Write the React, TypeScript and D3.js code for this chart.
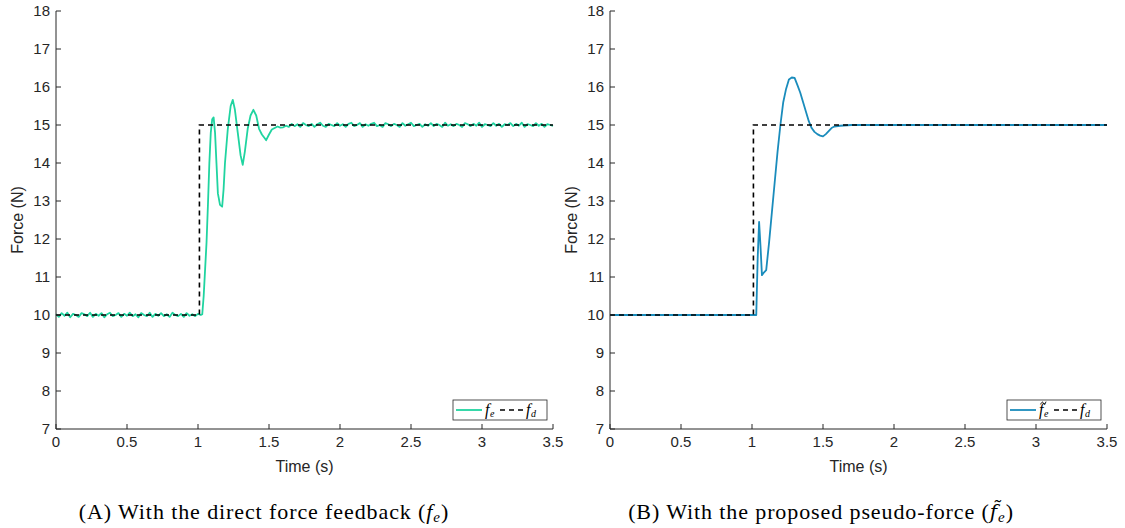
import React from "react";
import * as d3 from "d3";

const yTicks = [7, 8, 9, 10, 11, 12, 13, 14, 15, 16, 17, 18];
const xTicks = [0, 0.5, 1, 1.5, 2, 2.5, 3, 3.5];

// reference step (f_d)
const refTime = [0, 1.01, 1.01, 3.5];
const refForce = [10, 10, 15, 15];

// direct force feedback: noisy pre-step samples (dt = 0.02 from t = 0)
const fePre = [
  10.02, 9.95, 10.05, 9.98, 10.06, 9.94, 10.03, 10.0, 9.95, 10.05, 10.02, 9.97, 10.06, 9.95, 10.03, 9.98, 10.05,
  9.94, 10.02, 10.06, 9.97, 10.0, 10.05, 9.95, 10.03, 9.98, 10.06, 9.97, 10.02, 9.94, 10.05, 10.0, 9.97, 10.06,
  9.95, 10.03, 9.98, 10.05, 9.97, 10.02, 9.95, 10.06, 10.0, 9.97, 10.03, 9.95, 10.05, 9.98, 10.02, 9.97, 10.03,
];
// transient
const feTransTime = [
  1.02, 1.03, 1.04, 1.05, 1.06, 1.07, 1.08, 1.09, 1.1, 1.11, 1.12, 1.13, 1.14, 1.155, 1.17, 1.18, 1.19, 1.21, 1.23,
  1.245, 1.26, 1.28, 1.3, 1.315, 1.33, 1.35, 1.37, 1.39, 1.41, 1.43, 1.45, 1.47, 1.48, 1.5, 1.52, 1.54, 1.56, 1.58,
];
const feTransForce = [
  10.0, 10.02, 10.5, 11.2, 11.9, 12.9, 14.0, 14.8, 15.15, 15.2, 14.8, 14.0, 13.2, 12.9, 12.85, 13.3, 14.0, 14.9,
  15.5, 15.66, 15.4, 14.8, 14.2, 13.95, 14.3, 14.9, 15.25, 15.4, 15.25, 14.9, 14.75, 14.65, 14.6, 14.75, 14.88,
  14.92, 14.96, 14.93,
];
// noisy post-step samples (dt = 0.02 from t = 1.6)
const fePost = [
  14.94, 14.98, 14.95, 15.03, 14.97, 15.02, 14.95, 15.05, 15.0, 14.97, 15.03, 14.95, 15.02, 15.06, 14.98, 14.95,
  15.03, 15.0, 14.97, 15.05, 14.98, 15.02, 14.95, 15.03, 15.06, 14.97, 15.0, 15.05, 14.95, 15.02, 14.98, 15.03,
  15.06, 14.97, 15.0, 14.95, 15.05, 15.02, 14.97, 15.03, 15.0, 14.95, 15.05, 14.98, 15.02, 15.06, 14.97, 15.0,
  15.03, 14.95, 15.02, 14.98, 15.05, 14.97, 15.03, 15.0, 14.95, 15.06, 14.98, 15.02, 14.97, 15.03, 15.0, 14.95,
  15.05, 15.02, 14.97, 15.03, 14.98, 15.06, 14.95, 15.02, 15.0, 14.97, 15.05, 14.98, 15.03, 14.95, 15.02, 15.0,
  15.05, 14.97, 15.03, 14.98, 15.06, 14.95, 15.02, 15.0, 14.97, 15.05, 14.98, 15.03, 14.95, 15.02, 15.0, 14.98,
];

// proposed pseudo-force
const pfTime = [
  0, 1.01, 1.03, 1.04, 1.05, 1.06, 1.07, 1.08, 1.1, 1.12, 1.14, 1.16, 1.18, 1.2, 1.22, 1.24, 1.26, 1.28, 1.3, 1.32,
  1.34, 1.36, 1.38, 1.4, 1.42, 1.44, 1.46, 1.48, 1.5, 1.52, 1.54, 1.56, 1.58, 1.62, 1.7, 1.8, 3.5,
];
const pfForce = [
  10, 10, 10, 11.5, 12.45, 11.8, 11.05, 11.1, 11.18, 11.9, 12.7, 13.5, 14.3, 15.0, 15.6, 15.95, 16.2, 16.25,
  16.24, 16.05, 15.85, 15.6, 15.35, 15.1, 14.92, 14.82, 14.76, 14.72, 14.7, 14.76, 14.84, 14.92, 14.96, 14.98,
  15.0, 15.0, 15.0,
];

const W = 1125;
const H = 528;
const axisColor = "#262626";
const sans = "'Liberation Sans', Arial, sans-serif";
const serif = "'Liberation Serif', 'DejaVu Serif', serif";

type Pt = [number, number];

function buildFe(): Pt[] {
  const pts: Pt[] = [];
  fePre.forEach((v, i) => pts.push([i * 0.02, v]));
  feTransTime.forEach((t, i) => pts.push([t, feTransForce[i]]));
  fePost.forEach((v, i) => pts.push([1.6 + i * 0.02, v]));
  return pts;
}

function Tilde({ x, y, w }: { x: number; y: number; w: number }) {
  const h = w * 0.25;
  return (
    <path
      d={`M${x},${y + h} C${x + w * 0.25},${y - h} ${x + w * 0.45},${y - h} ${x + w * 0.5},${y} S${x + w * 0.75},${y + h * 2} ${x + w},${y - h}`}
      fill="none"
      stroke="#000"
      strokeWidth={0.9}
    />
  );
}

function Panel({
  x0,
  data,
  color,
  tilde,
}: {
  x0: number;
  data: Pt[];
  color: string;
  tilde: boolean;
}) {
  const x = d3.scaleLinear().domain([0, 3.5]).range([x0, x0 + 497]);
  const y = d3.scaleLinear().domain([7, 18]).range([429, 11]);
  const line = d3
    .line<Pt>()
    .x((d) => x(d[0]))
    .y((d) => y(d[1]));
  const refPts: Pt[] = refTime.map((t, i) => [t, refForce[i]]);
  const lx = x0 + 397;
  const ly = 400;
  return (
    <g>
      <path d={line(data) ?? ""} fill="none" stroke={color} strokeWidth={1.8} strokeLinejoin="round" />
      <path d={line(refPts) ?? ""} fill="none" stroke="#000" strokeWidth={1.6} strokeDasharray="5,4" />
      {/* axes */}
      <line x1={x(0)} x2={x(3.5)} y1={y(7)} y2={y(7)} stroke={axisColor} strokeWidth={1} />
      <line x1={x(0)} x2={x(0)} y1={y(7)} y2={y(18)} stroke={axisColor} strokeWidth={1} />
      {yTicks.map((t) => (
        <g key={"y" + t}>
          <line x1={x(0)} x2={x(0) + 5} y1={y(t)} y2={y(t)} stroke={axisColor} />
          <text x={x(0) - 6} y={y(t)} dy="0.35em" textAnchor="end" fontFamily={sans} fontSize={15} fill={axisColor}>
            {t}
          </text>
        </g>
      ))}
      {xTicks.map((t) => (
        <g key={"x" + t}>
          <line x1={x(t)} x2={x(t)} y1={y(7)} y2={y(7) - 5} stroke={axisColor} />
          <text x={x(t)} y={y(7) + 18} textAnchor="middle" fontFamily={sans} fontSize={15} fill={axisColor}>
            {t}
          </text>
        </g>
      ))}
      <text x={x(1.75)} y={472} textAnchor="middle" fontFamily={sans} fontSize={16} fill={axisColor}>
        Time (s)
      </text>
      <text
        transform={`translate(${x0 - 33},${y(12.5)}) rotate(-90)`}
        textAnchor="middle"
        fontFamily={sans}
        fontSize={16}
        fill={axisColor}
      >
        Force (N)
      </text>
      {/* legend */}
      <rect x={lx} y={ly} width={94} height={20} fill="#fff" stroke={axisColor} strokeWidth={0.8} />
      <line x1={lx + 3} x2={lx + 29} y1={ly + 10} y2={ly + 10} stroke={color} strokeWidth={1.8} />
      <text x={lx + 32} y={ly + 15} fontFamily={serif} fontStyle="italic" fontSize={16} fill="#000">
        f
      </text>
      {tilde && <Tilde x={lx + 33.5} y={ly + 3} w={5.5} />}
      <text x={lx + 37} y={ly + 17} fontFamily={serif} fontStyle="italic" fontSize={10} fill="#000">
        e
      </text>
      <line x1={lx + 47} x2={lx + 70} y1={ly + 10} y2={ly + 10} stroke="#000" strokeWidth={1.6} strokeDasharray="5,4" />
      <text x={lx + 73} y={ly + 15} fontFamily={serif} fontStyle="italic" fontSize={16} fill="#000">
        f
      </text>
      <text x={lx + 78} y={ly + 17} fontFamily={serif} fontStyle="italic" fontSize={10} fill="#000">
        d
      </text>
    </g>
  );
}

export default function App() {
  const fe = buildFe();
  const pf: Pt[] = pfTime.map((t, i) => [t, pfForce[i]]);
  return (
    <svg width={W} height={H} style={{ position: "absolute", left: 0, top: 0, background: "#fff" }}>
      <rect width={W} height={H} fill="#fff" />
      <Panel x0={56} data={fe} color="#20d4a0" tilde={false} />
      <Panel x0={610} data={pf} color="#1a8cbc" tilde={true} />
      <text x={264} y={519} textAnchor="middle" fontFamily={serif} fontSize={22} letterSpacing={0.9} fill="#000">
        (A) With the direct force feedback (<tspan fontStyle="italic">f</tspan>
        <tspan fontStyle="italic" fontSize={15} dy={3}>e</tspan>
        <tspan dy={-3}>)</tspan>
      </text>
      <text x={821} y={519} textAnchor="middle" fontFamily={serif} fontSize={22} letterSpacing={0.9} fill="#000">
        (B) With the proposed pseudo-force (<tspan fontStyle="italic" fontFamily="'DejaVu Serif', serif" fontSize={20}>f̃</tspan>
        <tspan fontStyle="italic" fontSize={15} dy={3}>e</tspan>
        <tspan dy={-3}>)</tspan>
      </text>
    </svg>
  );
}
